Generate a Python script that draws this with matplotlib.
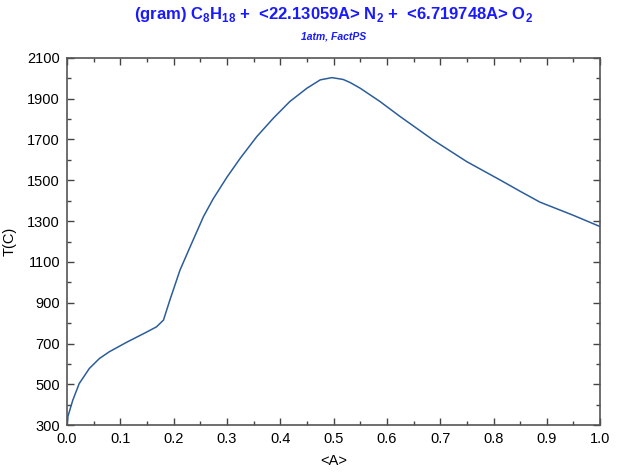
import matplotlib
matplotlib.use("Agg")
import matplotlib.pyplot as plt
from matplotlib.ticker import MultipleLocator, FixedLocator

plt.rcParams['font.family'] = ['Liberation Sans', 'DejaVu Sans']
plt.rcParams['mathtext.fontset'] = 'custom'
plt.rcParams['mathtext.bf'] = 'Liberation Sans:bold'
plt.rcParams['mathtext.rm'] = 'Liberation Sans:bold'

# equilibrium temperature vs <A>
alpha = [0.0, 0.002, 0.011, 0.023, 0.042, 0.061, 0.079, 0.111, 0.135, 0.150,
         0.168, 0.181, 0.193, 0.212, 0.231, 0.256, 0.274, 0.300, 0.325, 0.356,
         0.387, 0.418, 0.450, 0.475, 0.497, 0.518, 0.531, 0.550, 0.587, 0.625,
         0.687, 0.750, 0.812, 0.850, 0.887, 0.950, 1.0]
temp = [300, 345, 423, 504, 578, 627, 659, 705, 737, 757,
        782, 815, 913, 1060, 1174, 1322, 1408, 1515, 1608, 1714,
        1804, 1886, 1951, 1992, 2003, 1994, 1979, 1951, 1886, 1812,
        1697, 1591, 1502, 1446, 1393, 1328, 1273]

y_ticks = [300, 500, 700, 900, 1100, 1300, 1500, 1700, 1900, 2100]
y_minor = [400, 600, 800, 1000, 1200, 1400, 1600, 1800, 2000]

title = (r"(gram) C$_\mathbf{8}$H$_\mathbf{18}$ +  <22.13059A> N$_\mathbf{2}$ +  "
         r"<6.719748A> O$_\mathbf{2}$")
subtitle = "1atm, FactPS"

fig = plt.figure(figsize=(6.2, 4.74), dpi=100)
ax = fig.add_axes([0.108, 0.103, 0.860, 0.775])

ax.plot(alpha, temp, color='#2c5d9b', lw=1.1)

ax.set_xlim(0, 1)
ax.set_ylim(300, 2100)
ax.xaxis.set_major_locator(MultipleLocator(0.1))
ax.xaxis.set_minor_locator(MultipleLocator(0.05))
ax.yaxis.set_major_locator(FixedLocator(y_ticks))
ax.yaxis.set_minor_locator(FixedLocator(y_minor))
ax.xaxis.set_major_formatter(plt.FuncFormatter(lambda v, p: f"{v:.1f}"))

ax.tick_params(which='both', direction='in', top=True, right=True,
               colors='#444444', labelcolor='black', labelsize=10.5, width=1)
ax.tick_params(which='major', length=5, pad=5)
ax.tick_params(which='minor', length=3)
for s in ax.spines.values():
    s.set_color('#555555')
    s.set_linewidth(1.2)

ax.set_xlabel("<A>", fontsize=10.5, labelpad=6)
ax.set_ylabel("T(C)", fontsize=10.5, labelpad=8)

fig.text(0.538, 0.970, title, color='#1a1aff', fontsize=12, fontweight='bold',
         ha='center', va='center')
fig.text(0.538, 0.924, subtitle, color='#1a1aff', fontsize=7.5, fontweight='bold',
         fontstyle='italic', ha='center', va='center')

fig.savefig("out.png", dpi=100)
